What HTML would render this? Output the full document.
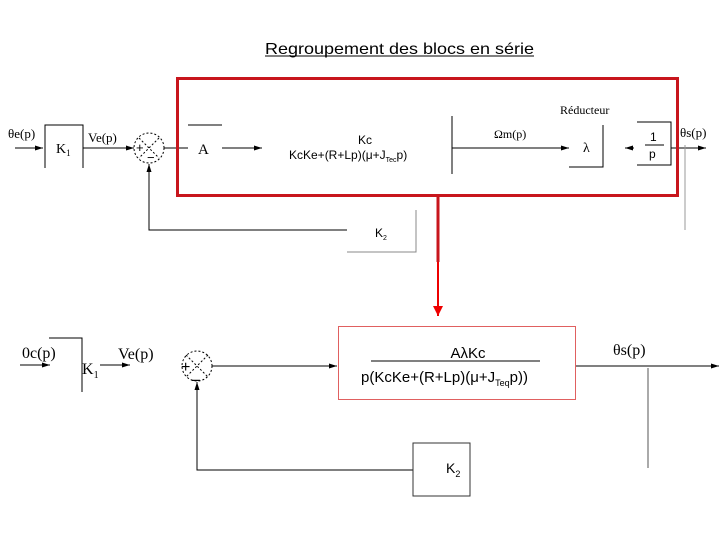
<!DOCTYPE html>
<html><head><meta charset="utf-8"><style>
html,body{margin:0;padding:0;background:#fff}
svg{display:block}
.s{font-family:"Liberation Serif",serif}
.a{font-family:"Liberation Sans",sans-serif}
</style></head><body>
<svg width="720" height="540" viewBox="0 0 720 540" xmlns="http://www.w3.org/2000/svg">
<defs>
<marker id="ar" markerWidth="8" markerHeight="6" refX="8" refY="3" orient="auto" markerUnits="userSpaceOnUse"><path d="M0,0.5 L8,3 L0,5.5z" fill="#000"/></marker>
<marker id="rr" markerWidth="10" markerHeight="10" refX="5" refY="10" orient="0" markerUnits="userSpaceOnUse"><path d="M0,0 L10,0 L5,10z" fill="#e00"/></marker>
</defs>
<text x="265" y="54" class="a" font-size="16" textLength="269" lengthAdjust="spacingAndGlyphs">Regroupement des blocs en série</text>
<line x1="265" y1="56" x2="534" y2="56" stroke="#000" stroke-width="1"/>

<g stroke="#000" stroke-width="1" fill="none">
<line x1="15" y1="148" x2="43" y2="148" marker-end="url(#ar)"/>
<polyline points="45,168 45,125 83,125 83,168"/>
<line x1="83" y1="148" x2="134" y2="148" marker-end="url(#ar)"/>
<circle cx="149" cy="148" r="15" stroke-dasharray="2,2"/>
<line x1="139" y1="138" x2="159" y2="158" stroke-dasharray="2,2"/>
<line x1="159" y1="138" x2="139" y2="158" stroke-dasharray="2,2"/>
<line x1="164" y1="148" x2="188" y2="148"/>
<line x1="188" y1="125" x2="222" y2="125"/>
<line x1="222" y1="148" x2="262" y2="148" marker-end="url(#ar)"/>
<line x1="452" y1="116" x2="452" y2="174"/>
<line x1="452" y1="148" x2="569" y2="148" marker-end="url(#ar)"/>
<polyline points="569,167 603,167 603,125"/>
<line x1="634" y1="148" x2="625" y2="148" marker-end="url(#ar)"/>
<polyline points="637,122 671,122 671,165 637,165"/>
<line x1="671" y1="148" x2="706" y2="148" marker-end="url(#ar)"/>
<line x1="685" y1="145" x2="685" y2="230" stroke="#999"/>
<polyline points="347,230 149,230 149,164" marker-end="url(#ar)"/>
<polyline points="347,252 416,252 416,210" stroke="#888"/>
</g>
<text x="8" y="138" class="s" font-size="13">θe(p)</text>
<text x="56" y="153" class="s" font-size="14">K<tspan font-size="9" dy="3">1</tspan></text>
<text x="88" y="142" class="s" font-size="13">Ve(p)</text>
<text x="136" y="152" class="a" font-size="13">+</text>
<text x="147" y="162" class="a" font-size="13">−</text>
<text x="198" y="154" class="s" font-size="15">A</text>
<text x="358" y="144" class="a" font-size="12">Kc</text>
<text x="289" y="159" class="a" font-size="12">KcKe+(R+Lp)(μ+J<tspan font-size="7" dy="3">Tec</tspan><tspan dy="-3">p)</tspan></text>
<text x="494" y="138" class="s" font-size="12">Ωm(p)</text>
<text x="560" y="114" class="s" font-size="12">Réducteur</text>
<text x="583" y="152" class="s" font-size="14">λ</text>
<text x="650" y="141" class="a" font-size="12">1</text>
<line x1="645" y1="145" x2="664" y2="145" stroke="#000"/>
<text x="649" y="158" class="a" font-size="12">p</text>
<text x="680" y="137" class="s" font-size="13">θs(p)</text>
<text x="375" y="237" class="a" font-size="12">K<tspan font-size="7" dy="3">2</tspan></text>

<rect x="177.5" y="78.5" width="500" height="117" fill="none" stroke="#c8161d" stroke-width="3"/>
<line x1="438" y1="196" x2="438" y2="262" stroke="#c8161d" stroke-width="3"/>
<line x1="438" y1="262" x2="438" y2="316" stroke="#e00" stroke-width="2" marker-end="url(#rr)"/>

<g stroke="#000" stroke-width="1" fill="none">
<line x1="20" y1="365" x2="50" y2="365" marker-end="url(#ar)"/>
<polyline points="49,338 82,338 82,392"/>
<line x1="100" y1="365" x2="130" y2="365" marker-end="url(#ar)"/>
<circle cx="197" cy="366" r="15" stroke-dasharray="2,2"/>
<line x1="186" y1="355" x2="208" y2="377" stroke-dasharray="2,2"/>
<line x1="208" y1="355" x2="186" y2="377" stroke-dasharray="2,2"/>
<line x1="212" y1="366" x2="337" y2="366" marker-end="url(#ar)"/>
<line x1="576" y1="366" x2="719" y2="366" marker-end="url(#ar)"/>
<line x1="648" y1="368" x2="648" y2="468" stroke="#555"/>
<polyline points="413,470 197,470 197,382" marker-end="url(#ar)"/>
<rect x="413" y="443" width="57" height="53" stroke="#333"/>
<line x1="371" y1="361" x2="540" y2="361"/>
</g>
<rect x="338.5" y="326.5" width="237" height="73" fill="none" stroke="#e06060" stroke-width="1"/>
<text x="22" y="358" class="s" font-size="16">0c(p)</text>
<text x="82" y="374" class="s" font-size="16">K<tspan font-size="10" dy="4">1</tspan></text>
<text x="118" y="359" class="s" font-size="16">Ve(p)</text>
<text x="181" y="372" class="a" font-size="16">+</text>
<text x="191" y="386" class="a" font-size="17">−</text>
<text x="468" y="358" class="a" font-size="15" text-anchor="middle">AλKc</text>
<text x="361" y="382" class="a" font-size="15">p(KcKe+(R+Lp)(μ+J<tspan font-size="9" dy="4">Teq</tspan><tspan dy="-4">p))</tspan></text>
<text x="613" y="355" class="s" font-size="16">θs(p)</text>
<text x="446" y="473" class="a" font-size="14">K<tspan font-size="9" dy="4">2</tspan></text>
</svg>
</body></html>
